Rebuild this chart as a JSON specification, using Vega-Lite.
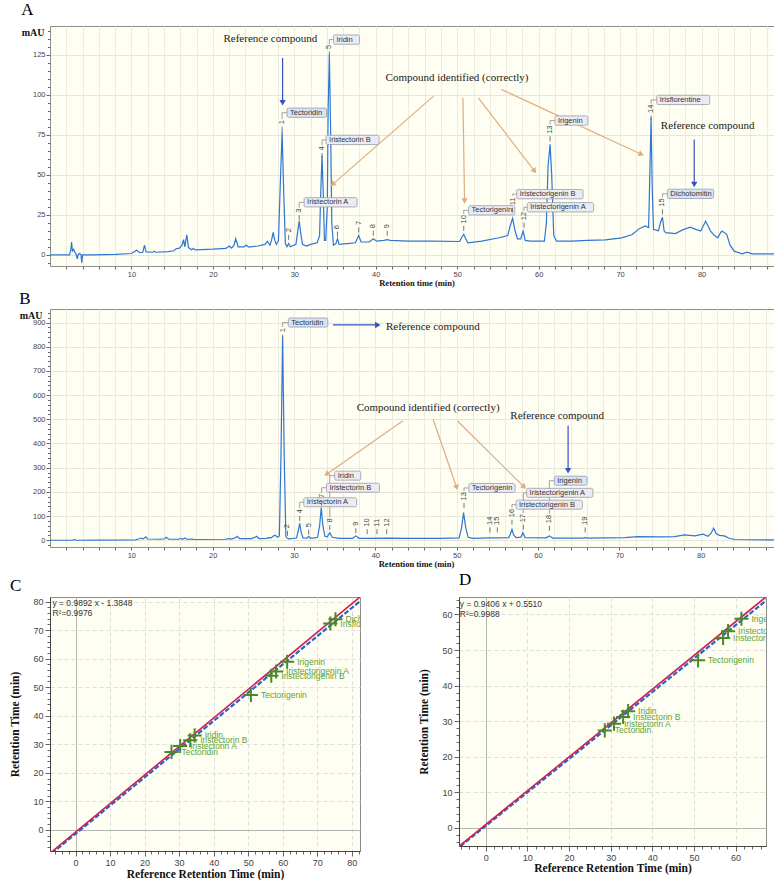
{
  "$schema": "https://vega.github.io/schema/vega-lite/v6.json",
  "background": "white",
  "padding": {"left": 9, "top": 0, "right": 0, "bottom": 0},
  "spacing": 1,
  "config": {
    "view": {"stroke": "#8c8c8c", "fill": "#fefef3", "strokeWidth": 1},
    "axis": {"labelFont": "Liberation Sans", "labelColor": "#444", "domainColor": "#666", "tickColor": "#666", "labelOverlap": false, "labelFlush": false, "titleColor": "#111", "tickCount": 500, "format": "d"},
    "title": {"font": "Liberation Serif", "fontSize": 17, "fontWeight": "normal", "anchor": "start", "frame": "bounds", "color": "#000"}
  },
  "datasets": {
    "traceA": [
      {"t":0,"v":0},{"t":2.4,"v":0},{"t":2.55,"v":3},{"t":2.65,"v":8},{"t":2.75,"v":2.5},{"t":2.9,"v":3.5},{"t":3.05,"v":1.5},{"t":3.2,"v":0.5},{"t":3.35,"v":-2.5},{"t":3.45,"v":0},{"t":3.6,"v":0.8},{"t":3.8,"v":0.2},{"t":3.9,"v":-5},{"t":4.0,"v":0},{"t":5,"v":0},{"t":8,"v":0.3},{"t":10,"v":0.8},{"t":10.4,"v":2},{"t":10.6,"v":3},{"t":11.0,"v":1.3},{"t":11.4,"v":1.6},{"t":11.6,"v":6},{"t":11.8,"v":1.8},{"t":12.6,"v":1.6},{"t":12.8,"v":2.2},{"t":13.0,"v":1.6},{"t":14.5,"v":2},{"t":15.2,"v":2.5},{"t":15.5,"v":3.8},{"t":15.9,"v":4.2},{"t":16.2,"v":6},{"t":16.4,"v":9.5},{"t":16.55,"v":5},{"t":16.8,"v":12.5},{"t":17.0,"v":4.5},{"t":17.4,"v":3.2},{"t":17.6,"v":4},{"t":17.8,"v":3.1},{"t":20,"v":3.5},{"t":21.6,"v":4},{"t":22.0,"v":5.5},{"t":22.3,"v":4.2},{"t":22.6,"v":6},{"t":22.8,"v":10},{"t":23.1,"v":5},{"t":23.8,"v":5},{"t":24.1,"v":6},{"t":24.4,"v":4.8},{"t":25.5,"v":5.5},{"t":26.4,"v":6.5},{"t":26.7,"v":8.5},{"t":27.0,"v":6},{"t":27.2,"v":9},{"t":27.4,"v":14},{"t":27.6,"v":9},{"t":27.8,"v":6.5},{"t":28.05,"v":9},{"t":28.25,"v":40},{"t":28.5,"v":77},{"t":28.7,"v":38},{"t":28.9,"v":7},{"t":29.1,"v":5},{"t":29.3,"v":7},{"t":29.5,"v":5},{"t":30.2,"v":6.5},{"t":30.4,"v":14},{"t":30.6,"v":21},{"t":30.8,"v":13},{"t":31.0,"v":6.5},{"t":31.5,"v":5.5},{"t":32.0,"v":6.5},{"t":32.8,"v":7.5},{"t":33.1,"v":12},{"t":33.25,"v":40},{"t":33.4,"v":62},{"t":33.55,"v":38},{"t":33.7,"v":9},{"t":33.85,"v":9},{"t":34.05,"v":30},{"t":34.15,"v":90},{"t":34.3,"v":125},{"t":34.45,"v":80},{"t":34.6,"v":20},{"t":34.8,"v":6},{"t":35.1,"v":7},{"t":35.3,"v":10},{"t":35.5,"v":6.5},{"t":36.5,"v":7},{"t":37.5,"v":7.5},{"t":37.9,"v":12},{"t":38.2,"v":8},{"t":39.2,"v":8},{"t":39.7,"v":10},{"t":40.1,"v":8.5},{"t":41.0,"v":9},{"t":41.4,"v":9.5},{"t":41.8,"v":9},{"t":44,"v":8.5},{"t":47,"v":8.5},{"t":50.3,"v":8.3},{"t":50.55,"v":11},{"t":50.8,"v":12.7},{"t":51.05,"v":10},{"t":51.3,"v":7.5},{"t":53,"v":8.5},{"t":55,"v":10.5},{"t":56.2,"v":12},{"t":56.5,"v":18},{"t":56.8,"v":22.7},{"t":57.1,"v":15},{"t":57.4,"v":10},{"t":57.8,"v":10},{"t":58.1,"v":14.8},{"t":58.35,"v":9},{"t":59,"v":8.5},{"t":60.7,"v":8.5},{"t":60.95,"v":20},{"t":61.15,"v":55},{"t":61.4,"v":69},{"t":61.6,"v":50},{"t":61.85,"v":12},{"t":62.2,"v":8.5},{"t":64.1,"v":8.6},{"t":66,"v":9},{"t":68.2,"v":9.3},{"t":70.2,"v":10.6},{"t":71.5,"v":12.7},{"t":72.4,"v":16.5},{"t":73.1,"v":18},{"t":73.5,"v":17},{"t":73.65,"v":50},{"t":73.8,"v":85.6},{"t":73.95,"v":40},{"t":74.1,"v":15.9},{"t":74.7,"v":15},{"t":74.95,"v":20},{"t":75.2,"v":23.5},{"t":75.4,"v":15},{"t":75.6,"v":13.8},{"t":76.8,"v":13.3},{"t":77.6,"v":15.4},{"t":78.6,"v":17.3},{"t":79.3,"v":15.9},{"t":79.9,"v":14.8},{"t":80.2,"v":18},{"t":80.5,"v":21},{"t":80.8,"v":18},{"t":81.1,"v":14.8},{"t":81.6,"v":12},{"t":82.0,"v":10.6},{"t":82.3,"v":13.5},{"t":82.5,"v":14.8},{"t":82.8,"v":14},{"t":83.1,"v":12.7},{"t":83.5,"v":6},{"t":84,"v":2.3},{"t":85,"v":0.6},{"t":85.6,"v":1.6},{"t":86.2,"v":0.6},{"t":90,"v":0.6}
    ],
    "traceB": [
      {"t":0,"v":0},{"t":2.8,"v":0},{"t":3.0,"v":3},{"t":3.2,"v":0},{"t":6,"v":0.5},{"t":10.5,"v":1.5},{"t":11.0,"v":6},{"t":11.2,"v":9},{"t":11.4,"v":5},{"t":11.6,"v":9},{"t":11.8,"v":14},{"t":12.0,"v":5},{"t":13.5,"v":4},{"t":14.1,"v":6},{"t":14.3,"v":12},{"t":14.6,"v":4},{"t":15.8,"v":4},{"t":16.1,"v":8},{"t":16.3,"v":4},{"t":16.6,"v":9},{"t":16.8,"v":4},{"t":17.5,"v":5},{"t":17.7,"v":3},{"t":21.5,"v":4},{"t":22.0,"v":7},{"t":22.3,"v":5},{"t":22.8,"v":10},{"t":23.0,"v":16},{"t":23.3,"v":7},{"t":24.8,"v":7},{"t":25.2,"v":12},{"t":25.4,"v":16},{"t":25.7,"v":7},{"t":26.6,"v":8},{"t":26.9,"v":11},{"t":27.2,"v":10},{"t":27.5,"v":18},{"t":27.7,"v":21},{"t":27.95,"v":12},{"t":28.2,"v":18},{"t":28.4,"v":350},{"t":28.6,"v":845},{"t":28.8,"v":340},{"t":29.0,"v":15},{"t":29.2,"v":8},{"t":29.35,"v":6},{"t":30.3,"v":9},{"t":30.5,"v":35},{"t":30.7,"v":70},{"t":30.9,"v":30},{"t":31.1,"v":10},{"t":31.6,"v":9},{"t":31.8,"v":16},{"t":32.0,"v":9},{"t":32.4,"v":9},{"t":32.9,"v":12},{"t":33.15,"v":60},{"t":33.35,"v":135},{"t":33.55,"v":60},{"t":33.8,"v":16},{"t":34.1,"v":14},{"t":34.4,"v":31},{"t":34.7,"v":12},{"t":35.5,"v":8},{"t":37.2,"v":8},{"t":37.6,"v":18},{"t":38.0,"v":8},{"t":39.0,"v":8},{"t":41.4,"v":9},{"t":44,"v":8},{"t":48,"v":8},{"t":50.3,"v":10},{"t":50.6,"v":50},{"t":50.85,"v":114},{"t":51.1,"v":55},{"t":51.4,"v":12},{"t":52,"v":8},{"t":54.1,"v":10},{"t":55.0,"v":10},{"t":56.4,"v":11},{"t":56.6,"v":25},{"t":56.8,"v":45},{"t":57.0,"v":22},{"t":57.3,"v":11},{"t":57.9,"v":13},{"t":58.15,"v":31},{"t":58.4,"v":11},{"t":61.0,"v":10},{"t":61.4,"v":18},{"t":61.8,"v":9},{"t":65.5,"v":9},{"t":65.8,"v":11},{"t":66.1,"v":9},{"t":70.7,"v":11},{"t":72.3,"v":15},{"t":75,"v":14},{"t":76.8,"v":15},{"t":78.0,"v":22},{"t":79.3,"v":18},{"t":80.3,"v":25},{"t":80.9,"v":16},{"t":81.3,"v":30},{"t":81.6,"v":50},{"t":81.9,"v":28},{"t":82.3,"v":20},{"t":82.9,"v":18},{"t":83.5,"v":8},{"t":84.2,"v":3},{"t":90,"v":1}
    ],
    "numA": [
      {"t":28.5,"v":81,"n":"1"},{"t":29.3,"v":13.4,"n":"2"},{"t":30.6,"v":25.6,"n":"3"},{"t":33.4,"v":64.5,"n":"4"},{"t":34.3,"v":128,"n":"5"},{"t":35.3,"v":15.4,"n":"6"},{"t":37.9,"v":18,"n":"7"},{"t":39.7,"v":16,"n":"8"},{"t":41.4,"v":16,"n":"9"},{"t":50.8,"v":19,"n":"10"},{"t":56.8,"v":30.4,"n":"11"},{"t":58.2,"v":21,"n":"12"},{"t":61.4,"v":75,"n":"13"},{"t":73.8,"v":88,"n":"14"},{"t":75.2,"v":29.4,"n":"15"}
    ],
    "numB": [
      {"t":28.6,"v":856,"n":"1"},{"t":29.2,"v":45,"n":"2"},{"t":30.7,"v":107,"n":"4"},{"t":31.8,"v":50,"n":"5"},{"t":33.4,"v":170,"n":"7"},{"t":34.4,"v":69,"n":"8"},{"t":37.6,"v":56,"n":"9"},{"t":39.0,"v":52,"n":"10"},{"t":40.2,"v":52,"n":"11"},{"t":41.4,"v":52,"n":"12"},{"t":50.9,"v":160,"n":"13"},{"t":54.1,"v":59,"n":"14"},{"t":55.0,"v":59,"n":"15"},{"t":56.8,"v":91,"n":"16"},{"t":58.2,"v":70,"n":"17"},{"t":61.4,"v":66,"n":"18"},{"t":65.8,"v":59,"n":"19"}
    ],
    "boxA": [
      {"t":29.1,"v":88.8,"label":"Tectoridin","role":"reference","n":"1"},
      {"t":34.8,"v":134.5,"label":"Iridin","role":"identified","n":"5"},
      {"t":33.9,"v":71.8,"label":"Iristectorin B","role":"identified","n":"4"},
      {"t":31.2,"v":32.8,"label":"Iristectorin A","role":"identified","n":"3"},
      {"t":51.4,"v":27.8,"label":"Tectorigenin","role":"identified","n":"10"},
      {"t":57.3,"v":37.9,"label":"Iristectorigenin B","role":"identified","n":"11"},
      {"t":58.6,"v":29.7,"label":"Iristectorigenin A","role":"identified","n":"12"},
      {"t":62.0,"v":83.9,"label":"Irigenin","role":"identified","n":"13"},
      {"t":74.5,"v":96.8,"label":"Irisflorentine","role":"identified","n":"14"},
      {"t":75.8,"v":38.1,"label":"Dichotomitin","role":"reference","n":"15"}
    ],
    "boxB": [
      {"t":29.3,"v":900,"label":"Tectoridin","role":"reference","n":"1"},
      {"t":35.0,"v":267,"label":"Iridin","role":"identified","n":"8"},
      {"t":34.0,"v":217,"label":"Iristectorin B","role":"identified","n":"7"},
      {"t":31.2,"v":157,"label":"Iristectorin A","role":"identified","n":"4"},
      {"t":51.5,"v":216,"label":"Tectorigenin","role":"identified","n":"13"},
      {"t":62.0,"v":246,"label":"Irigenin","role":"reference","n":"18"},
      {"t":58.6,"v":196,"label":"Iristectorigenin A","role":"identified","n":"17"},
      {"t":57.3,"v":147,"label":"Iristectorigenin B","role":"identified","n":"16"}
    ],
    "arrA": [
      {"t":47.1,"v":99.2,"t2":34.7,"v2":44,"kind":"id"},
      {"t":50.7,"v":98.1,"t2":50.9,"v2":33.6,"kind":"id"},
      {"t":52.6,"v":98.1,"t2":59.5,"v2":52.3,"kind":"id"},
      {"t":55.4,"v":103.4,"t2":72.6,"v2":62.8,"kind":"id"},
      {"t":28.56,"v":123,"t2":28.56,"v2":95,"kind":"ref"},
      {"t":79.1,"v":72.1,"t2":79.1,"v2":44,"kind":"ref"}
    ],
    "arrB": [
      {"t":43.4,"v":494,"t2":34.0,"v2":273,"kind":"id"},
      {"t":47.1,"v":500,"t2":50.0,"v2":218,"kind":"id"},
      {"t":50.1,"v":493,"t2":58.3,"v2":220,"kind":"id"},
      {"t":34.8,"v":890,"t2":40.3,"v2":890,"kind":"ref"},
      {"t":63.7,"v":473,"t2":63.7,"v2":287,"kind":"ref"}
    ],
    "txtA": [
      {"t":21.3,"v":135,"label":"Reference compound"},
      {"t":41.2,"v":110.6,"label":"Compound identified (correctly)"},
      {"t":75.0,"v":80.4,"label":"Reference compound"}
    ],
    "txtB": [
      {"t":41.3,"v":883,"label":"Reference compound"},
      {"t":37.7,"v":548,"label":"Compound identified (correctly)"},
      {"t":56.6,"v":514,"label":"Reference compound"}
    ],
    "ptsC": [
      {"rx":27.8,"rt":27.3,"name":"Tectoridin"},
      {"rx":30.3,"rt":29.4,"name":"Iristectorin A"},
      {"rx":33.2,"rt":31.4,"name":"Iristectorin B"},
      {"rx":34.5,"rt":33.1,"name":"Iridin"},
      {"rx":50.8,"rt":47.3,"name":"Tectorigenin"},
      {"rx":56.7,"rt":54.0,"name":"Iristectorigenin B"},
      {"rx":58.1,"rt":55.5,"name":"Iristectorigenin A"},
      {"rx":61.3,"rt":58.9,"name":"Irigenin"},
      {"rx":73.8,"rt":72.3,"name":"Irisflorentine"},
      {"rx":75.3,"rt":73.8,"name":"Dichotomitin"}
    ],
    "ptsD": [
      {"rx":28.6,"rt":27.4,"name":"Tectoridin"},
      {"rx":30.8,"rt":29.3,"name":"Iristectorin A"},
      {"rx":33.0,"rt":31.2,"name":"Iristectorin B"},
      {"rx":34.2,"rt":32.8,"name":"Iridin"},
      {"rx":51.0,"rt":47.1,"name":"Tectorigenin"},
      {"rx":57.0,"rt":53.4,"name":"Iristectorigenin B"},
      {"rx":58.2,"rt":55.3,"name":"Iristectorigenin A"},
      {"rx":61.4,"rt":58.8,"name":"Irigenin"}
    ],
    "linesC": [
      {"series":"fit","rx":-10,"rt":-11.28},{"series":"fit","rx":90,"rt":87.64},
      {"series":"ref","rx":-10,"rt":-10.8},{"series":"ref","rx":90,"rt":89.2}
    ],
    "linesD": [
      {"series":"fit","rx":-10,"rt":-8.855},{"series":"fit","rx":75,"rt":71.096},
      {"series":"ref","rx":-10,"rt":-8.61},{"series":"ref","rx":75,"rt":72.225}
    ],
    "eqC": [{"rx":-6.7,"rt":80.8,"label":"y = 0.9892 x - 1.3848\nR²=0.9976"}],
    "eqD": [{"rx":-6.2,"rt":64.0,"label":"y = 0.9406 x + 0.5510\nR²=0.9988"}]
  },
  "vconcat": [
    {
      "width": 733, "height": 240,
      "title": {"text": "A", "offset": 7},
      "layer": [
        {
          "data": {"name": "traceA"},
          "mark": {"type": "line", "color": "#2f76d2", "strokeWidth": 1.2, "clip": true},
          "encoding": {
            "x": {"field": "t", "type": "quantitative", "scale": {"domain": [0, 90], "nice": false, "zero": false},
              "axis": {"title": "Retention time (min)", "titleFont": "Liberation Serif", "titleFontSize": 8.5, "titleFontWeight": "bold", "titlePadding": 1, "tickCount": 500, "format": "d",
                "values": [2,4,6,8,10,12,14,16,18,20,22,24,26,28,30,32,34,36,38,40,42,44,46,48,50,52,54,56,58,60,62,64,66,68,70,72,74,76,78,80,82,84,86,88],
                "labelExpr": "datum.value % 10 === 0 ? datum.label : ''", "labelOverlap": false, "labelFontSize": 7.5, "labelPadding": 1, "tickSize": 3,
                "grid": true, "gridColor": "#ececdf", "domain": false}},
            "y": {"field": "v", "type": "quantitative", "scale": {"domain": [-7, 143], "nice": false, "zero": false},
              "axis": {"title": "mAU", "titleAngle": 0, "titleAlign": "right", "titleBaseline": "middle", "titleX": -6, "titleY": 6, "titleFont": "Liberation Serif", "titleFontSize": 10, "titleFontWeight": "bold", "tickCount": 500, "format": "d",
                "values": [-5,0,5,10,15,20,25,30,35,40,45,50,55,60,65,70,75,80,85,90,95,100,105,110,115,120,125,130,135,140],
                "labelExpr": "datum.value % 25 === 0 ? datum.label : ''", "labelOverlap": false, "labelFontSize": 7.5, "labelPadding": 1,
                "tickSize": {"condition": {"test": "datum.value % 25 === 0", "value": 4}, "value": 2.5},
                "grid": true, "gridColor": "#e6e6d8", "gridOpacity": {"condition": {"test": "datum.value % 25 === 0", "value": 1}, "value": 0}, "domain": false}}
          }
        },
        {
          "data": {"name": "arrA"},
          "mark": {"type": "rule", "strokeWidth": 1.2},
          "encoding": {
            "x": {"field": "t", "type": "quantitative"}, "y": {"field": "v", "type": "quantitative"},
            "x2": {"field": "t2"}, "y2": {"field": "v2"},
            "color": {"field": "kind", "type": "nominal", "scale": {"domain": ["id", "ref"], "range": ["#e0ad7d", "#3a4fc0"]}, "legend": null}
          }
        },
        {
          "data": {"name": "arrA"},
          "transform": [{"calculate": "atan2((datum.t2-datum.t)*8.133, (datum.v2-datum.v)*1.6)*180/PI", "as": "ang"}],
          "mark": {"type": "point", "shape": "triangle-up", "filled": true, "opacity": 1, "size": 40},
          "encoding": {
            "x": {"field": "t2", "type": "quantitative"}, "y": {"field": "v2", "type": "quantitative"},
            "angle": {"field": "ang", "type": "quantitative", "scale": null},
            "color": {"field": "kind", "type": "nominal", "scale": {"domain": ["id", "ref"], "range": ["#e0ad7d", "#3a4fc0"]}, "legend": null}
          }
        },
        {
          "data": {"name": "boxA"},
          "transform": [
            {"lookup": "n", "from": {"data": {"name": "numA"}, "key": "n", "fields": ["t", "v"]}, "as": ["nt", "nv"]},
            {"calculate": "datum.nv + (2 + 4.2*length(datum.n))/1.6", "as": "ntop"}
          ],
          "mark": {"type": "rule", "color": "#8a8a8a", "strokeWidth": 0.8},
          "encoding": {"x": {"field": "nt", "type": "quantitative"}, "y": {"field": "ntop", "type": "quantitative"}, "y2": {"field": "v"}}
        },
        {
          "data": {"name": "boxA"},
          "transform": [
            {"lookup": "n", "from": {"data": {"name": "numA"}, "key": "n", "fields": ["t"]}, "as": ["nt"]}
          ],
          "mark": {"type": "rule", "color": "#8a8a8a", "strokeWidth": 0.8},
          "encoding": {"x": {"field": "nt", "type": "quantitative"}, "x2": {"field": "t"}, "y": {"field": "v", "type": "quantitative"}}
        },
        {
          "data": {"name": "boxA"},
          "transform": [
            {"calculate": "datum.t + (length(datum.label)*3.35+6)/8.133", "as": "tr"},
            {"calculate": "datum.v - 2.9", "as": "vlo"},
            {"calculate": "datum.v + 2.9", "as": "vhi"}
          ],
          "mark": {"type": "rect", "stroke": "#9a9aa8", "strokeWidth": 0.8, "cornerRadius": 1.5},
          "encoding": {
            "x": {"field": "t", "type": "quantitative"}, "x2": {"field": "tr"},
            "y": {"field": "vlo", "type": "quantitative"}, "y2": {"field": "vhi"},
            "fill": {"field": "role", "type": "nominal", "scale": {"domain": ["reference", "identified"], "range": ["#d5e5f8", "#ebebf4"]}, "legend": null}
          }
        },
        {
          "data": {"name": "boxA"},
          "mark": {"type": "text", "align": "left", "baseline": "middle", "dx": 3, "fontSize": 7.5, "font": "Liberation Sans", "color": "#333"},
          "encoding": {"x": {"field": "t", "type": "quantitative"}, "y": {"field": "v", "type": "quantitative"}, "text": {"field": "label"}}
        },
        {
          "data": {"name": "numA"},
          "mark": {"type": "point", "shape": "stroke", "angle": 90, "size": 25, "color": "#777", "strokeWidth": 1, "filled": false, "opacity": 1, "yOffset": 4},
          "encoding": {"x": {"field": "t", "type": "quantitative"}, "y": {"field": "v", "type": "quantitative"}}
        },
        {
          "data": {"name": "numA"},
          "mark": {"type": "text", "angle": 270, "align": "left", "baseline": "middle", "dx": 1, "fontSize": 7.5, "font": "Liberation Sans", "color": "#444"},
          "encoding": {"x": {"field": "t", "type": "quantitative"}, "y": {"field": "v", "type": "quantitative"}, "text": {"field": "n"}}
        },
        {
          "data": {"name": "txtA"},
          "mark": {"type": "text", "align": "left", "baseline": "middle", "font": "Liberation Serif", "fontSize": 11, "color": "#1a1a1a"},
          "encoding": {"x": {"field": "t", "type": "quantitative"}, "y": {"field": "v", "type": "quantitative"}, "text": {"field": "label"}}
        }
      ]
    },
    {
      "width": 732, "height": 238,
      "title": {"text": "B", "offset": 1},
      "layer": [
        {
          "data": {"name": "traceB"},
          "mark": {"type": "line", "color": "#2f76d2", "strokeWidth": 1.2, "clip": true},
          "encoding": {
            "x": {"field": "t", "type": "quantitative", "scale": {"domain": [0, 90], "nice": false, "zero": false},
              "axis": {"title": "Retention time (min)", "titleFont": "Liberation Serif", "titleFontSize": 8.5, "titleFontWeight": "bold", "titlePadding": 1, "tickCount": 500, "format": "d",
                "values": [2,4,6,8,10,12,14,16,18,20,22,24,26,28,30,32,34,36,38,40,42,44,46,48,50,52,54,56,58,60,62,64,66,68,70,72,74,76,78,80,82,84,86,88],
                "labelExpr": "datum.value % 10 === 0 ? datum.label : ''", "labelOverlap": false, "labelFontSize": 7.5, "labelPadding": 1, "tickSize": 3,
                "grid": true, "gridColor": "#ececdf", "domain": false}},
            "y": {"field": "v", "type": "quantitative", "scale": {"domain": [-28, 956], "nice": false, "zero": false},
              "axis": {"title": "mAU", "titleAngle": 0, "titleAlign": "right", "titleBaseline": "middle", "titleX": -8, "titleY": 6, "titleFont": "Liberation Serif", "titleFontSize": 10, "titleFontWeight": "bold", "tickCount": 500, "format": "d",
                "values": [-20,0,20,40,60,80,100,120,140,160,180,200,220,240,260,280,300,320,340,360,380,400,420,440,460,480,500,520,540,560,580,600,620,640,660,680,700,720,740,760,780,800,820,840,860,880,900,920,940],
                "labelExpr": "datum.value % 100 === 0 ? datum.label : ''", "labelOverlap": false, "labelFontSize": 7.5, "labelPadding": 1,
                "tickSize": {"condition": {"test": "datum.value % 100 === 0", "value": 4}, "value": 2.5},
                "grid": true, "gridColor": "#e6e6d8", "gridOpacity": {"condition": {"test": "datum.value % 100 === 0", "value": 1}, "value": 0}, "domain": false}}
          }
        },
        {
          "data": {"name": "arrB"},
          "mark": {"type": "rule", "strokeWidth": 1.2},
          "encoding": {
            "x": {"field": "t", "type": "quantitative"}, "y": {"field": "v", "type": "quantitative"},
            "x2": {"field": "t2"}, "y2": {"field": "v2"},
            "color": {"field": "kind", "type": "nominal", "scale": {"domain": ["id", "ref"], "range": ["#e0ad7d", "#3a4fc0"]}, "legend": null}
          }
        },
        {
          "data": {"name": "arrB"},
          "transform": [{"calculate": "atan2((datum.t2-datum.t)*8.133, (datum.v2-datum.v)*0.2419)*180/PI", "as": "ang"}],
          "mark": {"type": "point", "shape": "triangle-up", "filled": true, "opacity": 1, "size": 40},
          "encoding": {
            "x": {"field": "t2", "type": "quantitative"}, "y": {"field": "v2", "type": "quantitative"},
            "angle": {"field": "ang", "type": "quantitative", "scale": null},
            "color": {"field": "kind", "type": "nominal", "scale": {"domain": ["id", "ref"], "range": ["#e0ad7d", "#3a4fc0"]}, "legend": null}
          }
        },
        {
          "data": {"name": "boxB"},
          "transform": [
            {"lookup": "n", "from": {"data": {"name": "numB"}, "key": "n", "fields": ["t", "v"]}, "as": ["nt", "nv"]},
            {"calculate": "datum.nv + (2 + 4.2*length(datum.n))/0.2419", "as": "ntop"}
          ],
          "mark": {"type": "rule", "color": "#8a8a8a", "strokeWidth": 0.8},
          "encoding": {"x": {"field": "nt", "type": "quantitative"}, "y": {"field": "ntop", "type": "quantitative"}, "y2": {"field": "v"}}
        },
        {
          "data": {"name": "boxB"},
          "transform": [
            {"lookup": "n", "from": {"data": {"name": "numB"}, "key": "n", "fields": ["t"]}, "as": ["nt"]}
          ],
          "mark": {"type": "rule", "color": "#8a8a8a", "strokeWidth": 0.8},
          "encoding": {"x": {"field": "nt", "type": "quantitative"}, "x2": {"field": "t"}, "y": {"field": "v", "type": "quantitative"}}
        },
        {
          "data": {"name": "boxB"},
          "transform": [
            {"calculate": "datum.t + (length(datum.label)*3.35+6)/8.133", "as": "tr"},
            {"calculate": "datum.v - 18.6", "as": "vlo"},
            {"calculate": "datum.v + 18.6", "as": "vhi"}
          ],
          "mark": {"type": "rect", "stroke": "#9a9aa8", "strokeWidth": 0.8, "cornerRadius": 1.5},
          "encoding": {
            "x": {"field": "t", "type": "quantitative"}, "x2": {"field": "tr"},
            "y": {"field": "vlo", "type": "quantitative"}, "y2": {"field": "vhi"},
            "fill": {"field": "role", "type": "nominal", "scale": {"domain": ["reference", "identified"], "range": ["#d5e5f8", "#ebebf4"]}, "legend": null}
          }
        },
        {
          "data": {"name": "boxB"},
          "mark": {"type": "text", "align": "left", "baseline": "middle", "dx": 3, "fontSize": 7.5, "font": "Liberation Sans", "color": "#333"},
          "encoding": {"x": {"field": "t", "type": "quantitative"}, "y": {"field": "v", "type": "quantitative"}, "text": {"field": "label"}}
        },
        {
          "data": {"name": "numB"},
          "mark": {"type": "point", "shape": "stroke", "angle": 90, "size": 25, "color": "#777", "strokeWidth": 1, "filled": false, "opacity": 1, "yOffset": 4},
          "encoding": {"x": {"field": "t", "type": "quantitative"}, "y": {"field": "v", "type": "quantitative"}}
        },
        {
          "data": {"name": "numB"},
          "mark": {"type": "text", "angle": 270, "align": "left", "baseline": "middle", "dx": 1, "fontSize": 7.5, "font": "Liberation Sans", "color": "#444"},
          "encoding": {"x": {"field": "t", "type": "quantitative"}, "y": {"field": "v", "type": "quantitative"}, "text": {"field": "n"}}
        },
        {
          "data": {"name": "txtB"},
          "mark": {"type": "text", "align": "left", "baseline": "middle", "font": "Liberation Serif", "fontSize": 11, "color": "#1a1a1a"},
          "encoding": {"x": {"field": "t", "type": "quantitative"}, "y": {"field": "v", "type": "quantitative"}, "text": {"field": "label"}}
        }
      ]
    },
    {
      "spacing": 57,
      "hconcat": [
        {
          "width": 310, "height": 254,
          "title": {"text": "C", "offset": 2},
          "layer": [
            {
              "data": {"name": "linesC"},
              "transform": [{"filter": "datum.series == 'fit'"}],
              "mark": {"type": "line", "color": "#2f62c8", "strokeWidth": 2.2, "strokeDash": [5, 2], "clip": true},
              "encoding": {
                "x": {"field": "rx", "type": "quantitative", "scale": {"domain": [-7.4, 82.4], "nice": false, "zero": false},
                  "axis": {"title": "Reference Retention Time (min)", "titleFont": "Liberation Serif", "titleFontSize": 11.5, "titleFontWeight": "bold", "titlePadding": 1, "tickCount": 500, "format": "d",
                    "values": [-6,-4,-2,0,2,4,6,8,10,12,14,16,18,20,22,24,26,28,30,32,34,36,38,40,42,44,46,48,50,52,54,56,58,60,62,64,66,68,70,72,74,76,78,80,82],
                    "labelExpr": "datum.value % 10 === 0 ? datum.label : ''", "labelOverlap": false, "labelFontSize": 9, "labelPadding": 2,
                    "tickSize": {"condition": {"test": "datum.value % 10 === 0", "value": 5}, "value": 3},
                    "grid": true,
                    "gridColor": {"condition": {"test": "datum.value === 0", "value": "#b5b5b5"}, "value": "#dedede"},
                    "gridDash": {"condition": {"test": "datum.value === 0", "value": []}, "value": [4, 3]},
                    "gridOpacity": {"condition": {"test": "datum.value % 10 === 0", "value": 1}, "value": 0},
                    "domainColor": "#444"}},
                "y": {"field": "rt", "type": "quantitative", "scale": {"domain": [-7.4, 81.6], "nice": false, "zero": false},
                  "axis": {"title": "Retention Time (min)", "titleFont": "Liberation Serif", "titleFontSize": 11.5, "titleFontWeight": "bold", "titlePadding": 12, "tickCount": 500, "format": "d",
                    "values": [-6,-4,-2,0,2,4,6,8,10,12,14,16,18,20,22,24,26,28,30,32,34,36,38,40,42,44,46,48,50,52,54,56,58,60,62,64,66,68,70,72,74,76,78,80],
                    "labelExpr": "datum.value % 10 === 0 ? datum.label : ''", "labelOverlap": false, "labelFontSize": 9, "labelPadding": 2,
                    "tickSize": {"condition": {"test": "datum.value % 10 === 0", "value": 5}, "value": 3},
                    "grid": true,
                    "gridColor": {"condition": {"test": "datum.value === 0", "value": "#b5b5b5"}, "value": "#dedede"},
                    "gridDash": {"condition": {"test": "datum.value === 0", "value": []}, "value": [4, 3]},
                    "gridOpacity": {"condition": {"test": "datum.value % 10 === 0", "value": 1}, "value": 0},
                    "domainColor": "#444"}}
              }
            },
            {
              "data": {"name": "linesC"},
              "transform": [{"filter": "datum.series == 'ref'"}],
              "mark": {"type": "line", "color": "#cc2050", "strokeWidth": 1.6, "clip": true},
              "encoding": {"x": {"field": "rx", "type": "quantitative"}, "y": {"field": "rt", "type": "quantitative"}}
            },
            {
              "data": {"name": "ptsC"},
              "mark": {"type": "point", "shape": "M-1,0L1,0M0,-1L0,1", "size": 200, "strokeWidth": 2, "color": "#4a8a26", "filled": false, "opacity": 1, "clip": true},
              "encoding": {"x": {"field": "rx", "type": "quantitative"}, "y": {"field": "rt", "type": "quantitative"}}
            },
            {
              "data": {"name": "ptsC"},
              "mark": {"type": "text", "align": "left", "baseline": "middle", "dx": 10, "fontSize": 8.5, "font": "Liberation Sans", "color": "#5ea232", "clip": true},
              "encoding": {"x": {"field": "rx", "type": "quantitative"}, "y": {"field": "rt", "type": "quantitative"}, "text": {"field": "name"}}
            },
            {
              "data": {"name": "eqC"},
              "mark": {"type": "text", "align": "left", "baseline": "top", "fontSize": 8.5, "font": "Liberation Sans", "color": "#333", "lineBreak": "\n", "lineHeight": 10},
              "encoding": {"x": {"field": "rx", "type": "quantitative"}, "y": {"field": "rt", "type": "quantitative"}, "text": {"field": "label"}}
            }
          ]
        },
        {
          "width": 307, "height": 249,
          "title": {"text": "D", "offset": 7, "frame": "group"},
          "layer": [
            {
              "data": {"name": "linesD"},
              "transform": [{"filter": "datum.series == 'fit'"}],
              "mark": {"type": "line", "color": "#2f62c8", "strokeWidth": 2.2, "strokeDash": [5, 2], "clip": true},
              "encoding": {
                "x": {"field": "rx", "type": "quantitative", "scale": {"domain": [-6.4, 67.3], "nice": false, "zero": false},
                  "axis": {"title": "Reference Retention Time (min)", "titleFont": "Liberation Serif", "titleFontSize": 11.5, "titleFontWeight": "bold", "titlePadding": 0, "tickCount": 500, "format": "d",
                    "values": [-6,-4,-2,0,2,4,6,8,10,12,14,16,18,20,22,24,26,28,30,32,34,36,38,40,42,44,46,48,50,52,54,56,58,60,62,64,66],
                    "labelExpr": "datum.value % 10 === 0 ? datum.label : ''", "labelOverlap": false, "labelFontSize": 9, "labelPadding": 2,
                    "tickSize": {"condition": {"test": "datum.value % 10 === 0", "value": 5}, "value": 3},
                    "grid": true,
                    "gridColor": {"condition": {"test": "datum.value === 0", "value": "#b5b5b5"}, "value": "#dedede"},
                    "gridDash": {"condition": {"test": "datum.value === 0", "value": []}, "value": [4, 3]},
                    "gridOpacity": {"condition": {"test": "datum.value % 10 === 0", "value": 1}, "value": 0},
                    "domainColor": "#444"}},
                "y": {"field": "rt", "type": "quantitative", "scale": {"domain": [-5.1, 64.9], "nice": false, "zero": false},
                  "axis": {"title": "Retention Time (min)", "titleFont": "Liberation Serif", "titleFontSize": 11.5, "titleFontWeight": "bold", "titlePadding": 12, "tickCount": 500, "format": "d",
                    "values": [-4,-2,0,2,4,6,8,10,12,14,16,18,20,22,24,26,28,30,32,34,36,38,40,42,44,46,48,50,52,54,56,58,60,62,64],
                    "labelExpr": "datum.value % 10 === 0 ? datum.label : ''", "labelOverlap": false, "labelFontSize": 9, "labelPadding": 2,
                    "tickSize": {"condition": {"test": "datum.value % 10 === 0", "value": 5}, "value": 3},
                    "grid": true,
                    "gridColor": {"condition": {"test": "datum.value === 0", "value": "#b5b5b5"}, "value": "#dedede"},
                    "gridDash": {"condition": {"test": "datum.value === 0", "value": []}, "value": [4, 3]},
                    "gridOpacity": {"condition": {"test": "datum.value % 10 === 0", "value": 1}, "value": 0},
                    "domainColor": "#444"}}
              }
            },
            {
              "data": {"name": "linesD"},
              "transform": [{"filter": "datum.series == 'ref'"}],
              "mark": {"type": "line", "color": "#cc2050", "strokeWidth": 1.6, "clip": true},
              "encoding": {"x": {"field": "rx", "type": "quantitative"}, "y": {"field": "rt", "type": "quantitative"}}
            },
            {
              "data": {"name": "ptsD"},
              "mark": {"type": "point", "shape": "M-1,0L1,0M0,-1L0,1", "size": 200, "strokeWidth": 2, "color": "#4a8a26", "filled": false, "opacity": 1, "clip": true},
              "encoding": {"x": {"field": "rx", "type": "quantitative"}, "y": {"field": "rt", "type": "quantitative"}}
            },
            {
              "data": {"name": "ptsD"},
              "mark": {"type": "text", "align": "left", "baseline": "middle", "dx": 10, "fontSize": 8.5, "font": "Liberation Sans", "color": "#5ea232", "clip": true},
              "encoding": {"x": {"field": "rx", "type": "quantitative"}, "y": {"field": "rt", "type": "quantitative"}, "text": {"field": "name"}}
            },
            {
              "data": {"name": "eqD"},
              "mark": {"type": "text", "align": "left", "baseline": "top", "fontSize": 8.5, "font": "Liberation Sans", "color": "#333", "lineBreak": "\n", "lineHeight": 10},
              "encoding": {"x": {"field": "rx", "type": "quantitative"}, "y": {"field": "rt", "type": "quantitative"}, "text": {"field": "label"}}
            }
          ]
        }
      ]
    }
  ]
}
